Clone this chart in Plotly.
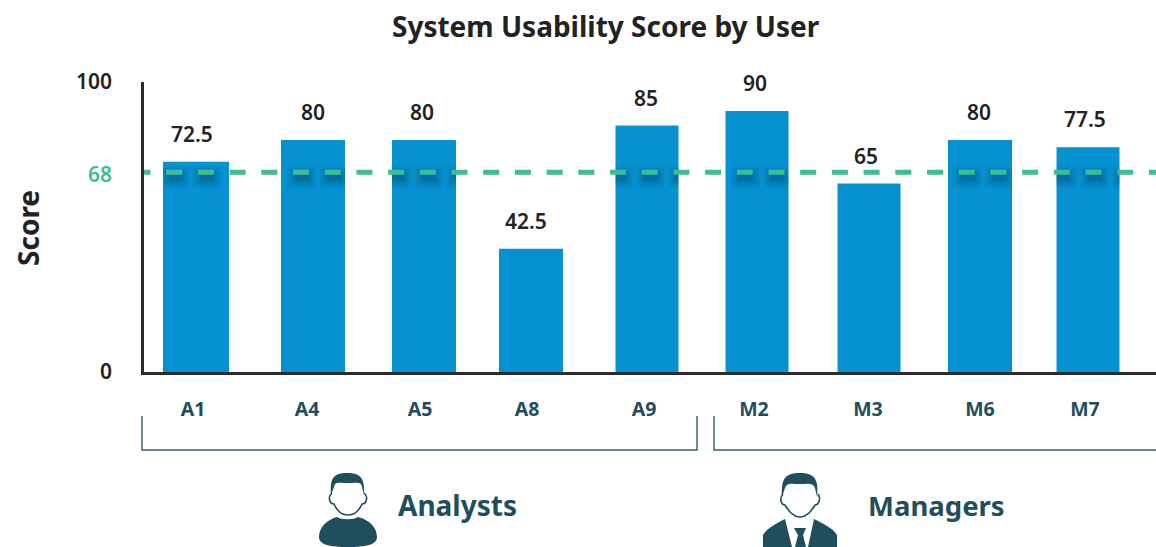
import plotly.graph_objects as go

users = ["A1", "A4", "A5", "A8", "A9", "M2", "M3", "M6", "M7"]
scores = [72.5, 80, 80, 42.5, 85, 90, 65, 80, 77.5]
score_labels = ["72.5", "80", "80", "42.5", "85", "90", "65", "80", "77.5"]
benchmark = 68
y_ticks = [0, 68, 100]
group_names = ["Analysts", "Managers"]
chart_title = "System Usability Score by User"

W, H = 1156, 547
FONT = "Noto Sans"
TEAL = "#1f4e5c"
GREEN = "#3dbd93"
BLUE = "#0691d0"
INK = "#222222"

LEFT, RIGHT, BASE, TOP = 144, W, 372, 82
X0_PX, STEP_PX = 196, 111.5
Y_PX = (BASE - TOP) / 100
BENCH_NUDGE = 2.6 / Y_PX  # the reference draws its benchmark slightly above the scale position


def idx(px):
    return (px - X0_PX) / STEP_PX


def X(px):
    return px / W


def Y(py):
    return 1 - py / H


def path(points):
    """points: SVG commands written in pixel coordinates of the page."""
    out = []
    for cmd, *xy in points:
        pairs = [f"{X(xy[i]):.5f},{Y(xy[i + 1]):.5f}" for i in range(0, len(xy), 2)]
        out.append(cmd + " " + " ".join(pairs))
    return " ".join(out)


shapes = []
annotations = []


def icon(d, fill=TEAL, line=None):
    shapes.append(dict(type="path", xref="paper", yref="paper", path=d,
                       fillcolor=fill, layer="above",
                       line=dict(color=line or fill, width=1.6 if line else 0)))


def text(t, x, y, size, color=TEAL, angle=0, weight=700, anchor="center"):
    annotations.append(dict(text=t, xref="paper", yref="paper", x=X(x), y=Y(y),
                            showarrow=False, xanchor=anchor, yanchor="middle",
                            textangle=angle,
                            font=dict(family=FONT, size=size, color=color, weight=weight)))


# bar nudges, in category units, for the reference's hand-placed columns
bar_px = [196, 313, 424, 531, 647, 757, 869, 980, 1088]
bar_w = [66, 64, 64, 64, 63, 63, 63, 64, 63]
offsets = [idx(c - w / 2) - i for i, (c, w) in enumerate(zip(bar_px, bar_w))]
widths = [w / STEP_PX for w in bar_w]

fig = go.Figure()
fig.add_bar(x=list(range(len(users))), y=scores, width=widths, offset=offsets,
            marker=dict(color=BLUE, line=dict(width=0)), hoverinfo="skip")

# soft shadow below each dash of the benchmark where it crosses a column
DASH, PERIOD, PHASE = 16, 31.7, 134.5
line_y = benchmark + BENCH_NUDGE
n_dash = int((W - PHASE) / PERIOD) + 1
for k in range(n_dash):
    a = PHASE + k * PERIOD
    b = a + DASH
    for c, w, v in zip(bar_px, bar_w, scores):
        l, r = c - w / 2, c + w / 2
        if b > l and a < r and v > benchmark:
            for grow, tall, alpha in [(7, 11, .04), (5, 9, .06), (3, 7, .08), (1, 5, .09), (-1, 3, .1)]:
                shapes.append(dict(type="rect", xref="x", yref="y",
                                   x0=idx(max(a - grow + 1, l)), x1=idx(min(b + grow + 1, r)),
                                   y0=line_y - (5 + tall) / Y_PX,
                                   y1=line_y - (5 - tall) / Y_PX,
                                   fillcolor=f"rgba(5,45,75,{alpha})", line=dict(width=0),
                                   layer="above"))

# benchmark line
shapes.append(dict(type="line", xref="x", yref="y",
                   x0=idx(PHASE), x1=idx(W + 20), y0=line_y, y1=line_y,
                   line=dict(color=GREEN, width=5, dash=f"{DASH}px,{PERIOD - DASH}px"),
                   layer="above"))

# value labels
label_px = [192, 313, 422, 526, 646, 755, 866, 979, 1085]
for i, (s, v, px) in enumerate(zip(score_labels, scores, label_px)):
    annotations.append(dict(text=s, x=idx(px), y=v, xref="x", yref="y", showarrow=False,
                            yshift=28, xanchor="center", yanchor="middle",
                            font=dict(family=FONT, size=21, color=INK, weight=600)))

# group brackets
for x0, x1 in [(142, 697), (714, W)]:
    d = path([("M", x0, 416), ("L", x0, 450), ("L", x1, 450)])
    if x1 < W:
        d += " " + path([("L", x1, 416)])
    shapes.append(dict(type="path", xref="paper", yref="paper", path=d,
                       line=dict(color="#2f5f6c", width=1.4), layer="above"))

text(chart_title, 606, 26, 28, color=INK)
text("Score", 28, 228, 28, color=INK, angle=-90)
text(group_names[0], 457, 505, 28)
text(group_names[1], 936, 505, 27.5)

# Analyst icon
icon(path([("M", 331, 495), ("C", 330, 480, 332, 473, 347, 473), ("C", 362, 473, 365, 480, 364, 495),
           ("L", 362, 487), ("C", 361, 481, 356, 483, 348, 483), ("C", 340, 483, 335, 481, 334, 487), ("Z",)]))
icon(path([("M", 332, 493), ("C", 327, 497, 330, 504, 334, 504), ("C", 337, 511, 342, 515, 348, 515),
           ("C", 354, 515, 359, 511, 362, 504), ("C", 366, 504, 369, 497, 364, 493)]),
     fill="rgba(0,0,0,0)", line=TEAL)
icon(path([("M", 337, 517), ("C", 341, 520, 354, 520, 358, 517), ("C", 370, 520, 377, 528, 377, 537),
           ("C", 377, 545, 365, 547, 348, 547), ("C", 331, 547, 319, 545, 319, 537),
           ("C", 319, 528, 326, 520, 337, 517), ("Z",)]))

# Manager icon
icon(path([("M", 782, 497), ("C", 781, 480, 784, 473, 800, 473), ("C", 815, 473, 819, 480, 817, 497),
           ("L", 815, 488), ("C", 813, 482, 806, 484, 800, 484), ("C", 792, 484, 787, 482, 785, 488), ("Z",)]))
icon(path([("M", 783, 494), ("C", 779, 498, 781, 505, 785, 505), ("C", 789, 512, 794, 517, 800, 517),
           ("C", 806, 517, 811, 512, 815, 505), ("C", 819, 505, 821, 498, 818, 494)]),
     fill="rgba(0,0,0,0)", line=TEAL)
icon(path([("M", 785, 519), ("L", 792, 547), ("L", 763, 547), ("L", 763, 535), ("C", 767, 528, 777, 523, 785, 519), ("Z",)]))
icon(path([("M", 814, 519), ("L", 808, 547), ("L", 837, 547), ("L", 837, 535), ("C", 833, 528, 822, 523, 814, 519), ("Z",)]))
icon(path([("M", 794, 528), ("L", 806, 528), ("L", 803, 535), ("L", 806, 547), ("L", 795, 547), ("L", 798, 535), ("Z",)]))

fig.update_layout(
    width=W, height=H, autosize=False, margin=dict(l=0, r=0, t=0, b=0),
    paper_bgcolor="white", plot_bgcolor="white", showlegend=False,
    shapes=shapes, annotations=annotations,
    xaxis=dict(domain=[X(LEFT), 1], range=[idx(LEFT), idx(RIGHT)], type="linear", automargin=False,
               tickmode="array", tickvals=[idx(px) for px in [193, 307, 420, 527, 644, 754, 868, 980, 1085]],
               ticktext=users, ticklen=0, showgrid=False, zeroline=False,
               showline=True, linecolor="#2b2b2b", linewidth=2.5,
               ticklabelstandoff=18,
               tickfont=dict(family=FONT, size=19.5, color=TEAL, weight=700)),
    yaxis=dict(domain=[Y(BASE), Y(TOP)], range=[0, 100], tickmode="array", tickvals=y_ticks,
               automargin=False,
               ticktext=[f'<span style="color:{GREEN if t == benchmark else INK}">{t}</span>' for t in y_ticks],
               ticklen=0, showgrid=False, zeroline=False, showline=True,
               linecolor="#2b2b2b", linewidth=2.5, ticklabelstandoff=25,
               tickfont=dict(family=FONT, size=21, color=INK, weight=600)),
)

fig.write_html("out.html", config={"displayModeBar": False},
               post_script="document.body.style.margin='0';document.body.style.overflow='hidden';")
